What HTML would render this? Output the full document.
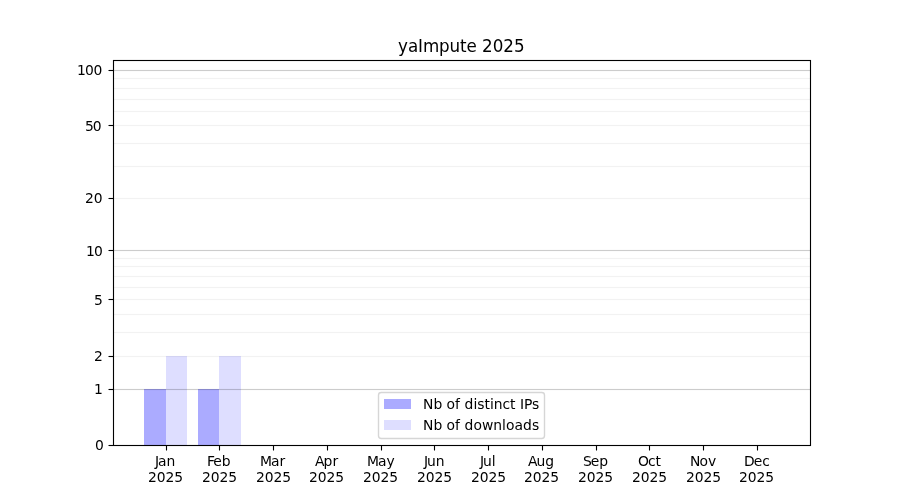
<!DOCTYPE html>
<html lang="en"><head><meta charset="utf-8"><title>yaImpute 2025</title>
<style>html,body{margin:0;padding:0;background:#fff;overflow:hidden}svg{display:block;will-change:transform}text{font-family:"DejaVu Sans", "Liberation Sans", sans-serif;fill:#000}</style></head><body>
<svg width="900" height="500" viewBox="0 0 900 500">
<rect width="900" height="500" fill="#fff"/>
<g fill="#0000ff">
<g fill-opacity="0.33"><rect x="144" y="389" width="22" height="56.5"/><rect x="198" y="389" width="21" height="56.5"/></g>
<g fill-opacity="0.13"><rect x="166" y="356" width="21" height="89.5"/><rect x="219" y="356" width="22" height="89.5"/></g>
</g>
<g stroke="#000" fill="none">
<g stroke-opacity="0.00278" stroke-width="3">
<line x1="113" y1="356.5" x2="810" y2="356.5"/>
<line x1="113" y1="332.5" x2="810" y2="332.5"/>
<line x1="113" y1="314.5" x2="810" y2="314.5"/>
<line x1="113" y1="299.5" x2="810" y2="299.5"/>
<line x1="113" y1="287.5" x2="810" y2="287.5"/>
<line x1="113" y1="276.5" x2="810" y2="276.5"/>
<line x1="113" y1="266.5" x2="810" y2="266.5"/>
<line x1="113" y1="258.5" x2="810" y2="258.5"/>
<line x1="113" y1="198.5" x2="810" y2="198.5"/>
<line x1="113" y1="166.5" x2="810" y2="166.5"/>
<line x1="113" y1="143.5" x2="810" y2="143.5"/>
<line x1="113" y1="125.5" x2="810" y2="125.5"/>
<line x1="113" y1="111.5" x2="810" y2="111.5"/>
<line x1="113" y1="99.5" x2="810" y2="99.5"/>
<line x1="113" y1="88.5" x2="810" y2="88.5"/>
<line x1="113" y1="78.5" x2="810" y2="78.5"/>
</g><g stroke-opacity="0.04736" stroke-width="1">
<line x1="113" y1="356.5" x2="810" y2="356.5"/>
<line x1="113" y1="332.5" x2="810" y2="332.5"/>
<line x1="113" y1="314.5" x2="810" y2="314.5"/>
<line x1="113" y1="299.5" x2="810" y2="299.5"/>
<line x1="113" y1="287.5" x2="810" y2="287.5"/>
<line x1="113" y1="276.5" x2="810" y2="276.5"/>
<line x1="113" y1="266.5" x2="810" y2="266.5"/>
<line x1="113" y1="258.5" x2="810" y2="258.5"/>
<line x1="113" y1="198.5" x2="810" y2="198.5"/>
<line x1="113" y1="166.5" x2="810" y2="166.5"/>
<line x1="113" y1="143.5" x2="810" y2="143.5"/>
<line x1="113" y1="125.5" x2="810" y2="125.5"/>
<line x1="113" y1="111.5" x2="810" y2="111.5"/>
<line x1="113" y1="99.5" x2="810" y2="99.5"/>
<line x1="113" y1="88.5" x2="810" y2="88.5"/>
<line x1="113" y1="78.5" x2="810" y2="78.5"/>
</g>
<g stroke-opacity="0.01102" stroke-width="3">
<line x1="113" y1="389.5" x2="810" y2="389.5"/>
<line x1="113" y1="250.5" x2="810" y2="250.5"/>
<line x1="113" y1="70.5" x2="810" y2="70.5"/>
</g><g stroke-opacity="0.18957" stroke-width="1">
<line x1="113" y1="389.5" x2="810" y2="389.5"/>
<line x1="113" y1="250.5" x2="810" y2="250.5"/>
<line x1="113" y1="70.5" x2="810" y2="70.5"/>
</g>
</g>
<g stroke="#000" stroke-width="1.111">
<line x1="166.5" y1="445" x2="166.5" y2="450.5"/>
<line x1="219.5" y1="445" x2="219.5" y2="450.5"/>
<line x1="273.5" y1="445" x2="273.5" y2="450.5"/>
<line x1="327.5" y1="445" x2="327.5" y2="450.5"/>
<line x1="381.5" y1="445" x2="381.5" y2="450.5"/>
<line x1="434.5" y1="445" x2="434.5" y2="450.5"/>
<line x1="488.5" y1="445" x2="488.5" y2="450.5"/>
<line x1="542.5" y1="445" x2="542.5" y2="450.5"/>
<line x1="596.5" y1="445" x2="596.5" y2="450.5"/>
<line x1="649.5" y1="445" x2="649.5" y2="450.5"/>
<line x1="703.5" y1="445" x2="703.5" y2="450.5"/>
<line x1="757.5" y1="445" x2="757.5" y2="450.5"/>
<line x1="108.5" y1="445.5" x2="113.5" y2="445.5"/>
<line x1="108.5" y1="389.5" x2="113.5" y2="389.5"/>
<line x1="108.5" y1="356.5" x2="113.5" y2="356.5"/>
<line x1="108.5" y1="299.5" x2="113.5" y2="299.5"/>
<line x1="108.5" y1="250.5" x2="113.5" y2="250.5"/>
<line x1="108.5" y1="198.5" x2="113.5" y2="198.5"/>
<line x1="108.5" y1="125.5" x2="113.5" y2="125.5"/>
<line x1="108.5" y1="70.5" x2="113.5" y2="70.5"/>
</g>
<rect x="113.5" y="60.5" width="697.0" height="385.0" fill="none" stroke="#000" stroke-width="1.111"/>
<rect x="378.5" y="392.5" width="166" height="46" rx="2.8" ry="2.8" fill="#fff" fill-opacity="0.8" stroke="#ccc" stroke-opacity="0.8" stroke-width="1.389"/>
<rect x="384" y="399" width="27" height="10" fill="#00f" fill-opacity="0.33"/>
<rect x="384" y="420" width="27" height="10" fill="#00f" fill-opacity="0.13"/>
<text x="155 158 166.62" y="466" font-size="13.889px">Jan</text>
<text x="148 156.75 165.5 174.25" y="482" font-size="13.889px">2025</text>
<text x="207 213.25 221.75" y="466" font-size="13.889px">Feb</text>
<text x="202 210.75 219.5 228.25" y="482" font-size="13.889px">2025</text>
<text x="260 271 279.62" y="466" font-size="13.889px">Mar</text>
<text x="256 264.75 273.5 282.25" y="482" font-size="13.889px">2025</text>
<text x="315 323.5 332.38" y="466" font-size="13.889px">Apr</text>
<text x="309 317.75 326.5 335.25" y="482" font-size="13.889px">2025</text>
<text x="367 378 386.62" y="466" font-size="13.889px">May</text>
<text x="363 371.75 380.5 389.25" y="482" font-size="13.889px">2025</text>
<text x="424 427 435.75" y="466" font-size="13.889px">Jun</text>
<text x="417 425.75 434.5 443.25" y="482" font-size="13.889px">2025</text>
<text x="480 483 491.75" y="466" font-size="13.889px">Jul</text>
<text x="471 479.75 488.5 497.25" y="482" font-size="13.889px">2025</text>
<text x="528 536.5 545.25" y="466" font-size="13.889px">Aug</text>
<text x="524 532.75 541.5 550.25" y="482" font-size="13.889px">2025</text>
<text x="583 590.75 599.25" y="466" font-size="13.889px">Sep</text>
<text x="578 586.75 595.5 604.25" y="482" font-size="13.889px">2025</text>
<text x="638 647.88 655.5" y="466" font-size="13.889px">Oct</text>
<text x="632 640.75 649.5 658.25" y="482" font-size="13.889px">2025</text>
<text x="690 699.38 707.88" y="466" font-size="13.889px">Nov</text>
<text x="686 694.75 703.5 712.25" y="482" font-size="13.889px">2025</text>
<text x="744 753.75 762.25" y="466" font-size="13.889px">Dec</text>
<text x="739 747.75 756.5 765.25" y="482" font-size="13.889px">2025</text>
<text x="95" y="450" font-size="13.889px">0</text>
<text x="94" y="394" font-size="13.889px">1</text>
<text x="94" y="361" font-size="13.889px">2</text>
<text x="94" y="305" font-size="13.889px">5</text>
<text x="86 93.88" y="256" font-size="13.889px">10</text>
<text x="85 93.75" y="203" font-size="13.889px">20</text>
<text x="85 92.75" y="131" font-size="13.889px">50</text>
<text x="77 84.88 93.62" y="75" font-size="13.889px">100</text>
<text x="398 407.88 418 422.88 439.12 449.62 460.12 466.62 476.88 482.12 492.75 503.25 513.88" y="52" font-size="16.740px">yaImpute 2025</text>
<text x="423 433.38 442.25 446.62 455.12 460.12 464.5 473.38 477.25 484.38 489.88 493.75 502.5 510.12 515.62 520 524 532.12" y="409" font-size="13.889px">Nb of distinct IPs</text>
<text x="423 433.38 442.25 446.62 455.12 460.12 464.5 473.38 481.88 493.25 502 505.88 514.38 523 531.88" y="430" font-size="13.889px">Nb of downloads</text>
</svg></body></html>
